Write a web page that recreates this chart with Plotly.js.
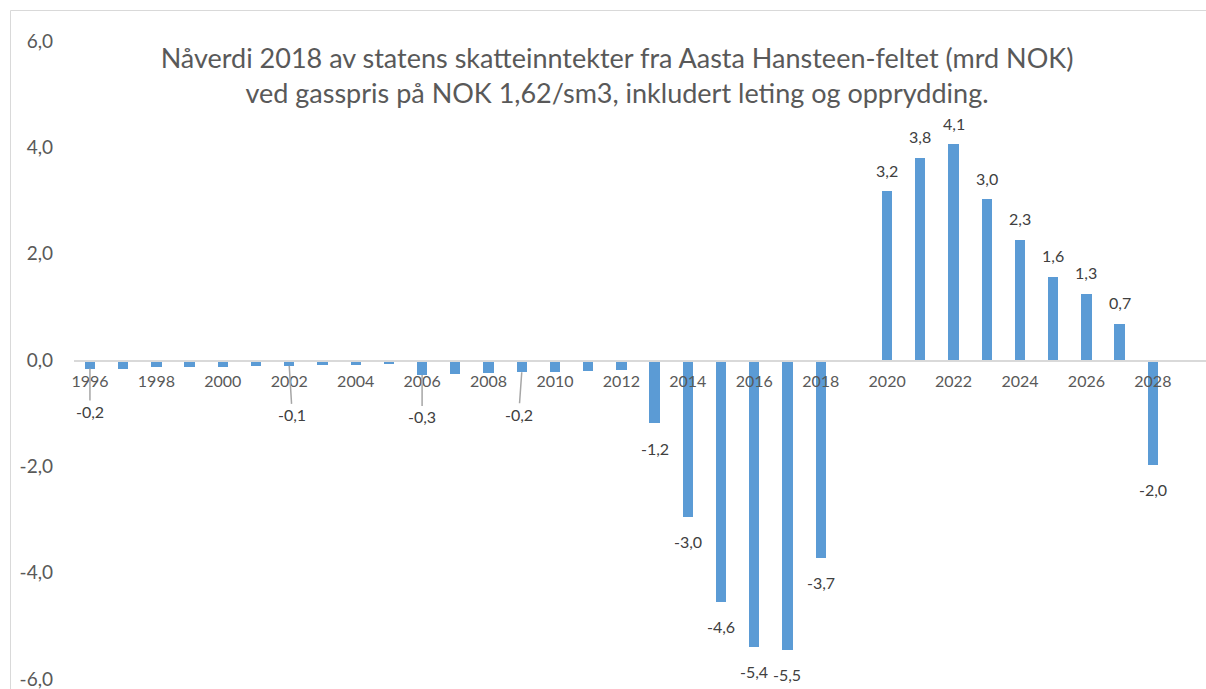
<!DOCTYPE html>
<html>
<head>
<meta charset="utf-8">
<script src="https://cdn.plot.ly/plotly-3.0.1.min.js"></script>
<style>html,body{margin:0;padding:0;background:#fff;}#chart{width:1206px;height:689px;}</style>
</head>
<body>
<div id="chart"></div>
<script>
// ---- data ----
const years = [1996,1997,1998,1999,2000,2001,2002,2003,2004,2005,2006,2007,2008,2009,2010,2011,2012,2013,2014,2015,2016,2017,2018,2019,2020,2021,2022,2023,2024,2025,2026,2027,2028,2029];
const values = [-0.16,-0.16,-0.14,-0.13,-0.13,-0.12,-0.11,-0.10,-0.09,-0.08,-0.28,-0.26,-0.25,-0.23,-0.22,-0.20,-0.18,-1.19,-2.95,-4.55,-5.39,-5.45,-3.72,0,3.17,3.80,4.06,3.02,2.26,1.57,1.25,0.68,-1.97,-0.03];
const labelYears = [1996,2002,2006,2009,2013,2014,2015,2016,2017,2018,2020,2021,2022,2023,2024,2025,2026,2027,2028];
const labelTexts = ['-0,2','-0,1','-0,3','-0,2','-1,2','-3,0','-4,6','-5,4','-5,5','-3,7','3,2','3,8','4,1','3,0','2,3','1,6','1,3','0,7','-2,0'];
const leaderYears = [1996,2002,2006,2009];
const yTickVals = [-6,-4,-2,0,2,4,6];
const titleLines = ['Nåverdi 2018 av statens skatteinntekter fra Aasta Hansteen-feltet (mrd NOK)', 'ved gasspris på NOK 1,62/sm3, inkludert leting og opprydding.'];

// ---- layout geometry ----
const W = 1206, H = 689;
const m = {l:74, r:0, t:31, b:0};
const pw = W - m.l - m.r, ph = H - m.t - m.b;
const yPad = 10 / 53.17; // extra value room above 6 and below -6
const font = 'Lato, "Open Sans", sans-serif';
const grey = '#595959';

const leaderOffsets = {1996:[0,43], 2002:[3,49], 2006:[0,42], 2009:[-3,42]};
const annotations = [];
labelYears.forEach((yr, i) => {
  const v = values[years.indexOf(yr)];
  if (leaderYears.includes(yr)) {
    const off = leaderOffsets[yr];
    annotations.push({x: yr, y: v, xref:'x', yref:'y', text: labelTexts[i],
      showarrow:true, arrowhead:0, arrowwidth:1.5, arrowcolor:'#a6a6a6',
      ax: off[0], ay: off[1], standoff:0,
      font:{family:font, size:16, color:'#404040'}});
  } else {
    annotations.push({x: yr, y: v, xref:'x', yref:'y', text: labelTexts[i],
      showarrow:false, yanchor:'middle', yshift: v < 0 ? -25 : 21,
      font:{family:font, size:16, color:'#404040'}});
  }
});

const px2x = p => (p - m.l) / pw;
const px2y = p => (H - m.b - p) / ph;
const shapes = [
  {type:'line', xref:'paper', yref:'paper', x0:px2x(10.5), x1:px2x(10.5), y0:px2y(10.5), y1:px2y(H+5), line:{color:'#d9d9d9', width:1}},
  {type:'line', xref:'paper', yref:'paper', x0:px2x(10.5), x1:px2x(W+5), y0:px2y(10.5), y1:px2y(10.5), line:{color:'#d9d9d9', width:1}}
];

const trace = {
  type:'bar', x: years, y: values, width: 0.31,
  marker:{color:'#5b9bd5', line:{width:0}},
  hoverinfo:'x+y'
};

const layout = {
  width: W, height: H, margin: m,
  paper_bgcolor:'#ffffff', plot_bgcolor:'#ffffff',
  showlegend:false,
  separators: ', ',
  title:{text: titleLines.join('<br>'), x: 617/W, xanchor:'center', y: 1 - 68/H, yanchor:'middle', yref:'container',
         font:{family:font, size:27, color:grey}},
  xaxis:{range:[1995.52, 2029.6], tickmode:'linear', tick0:1996, dtick:2, tickformat:'d',
         anchor:'free', position: 0.5, showgrid:false, zeroline:false,
         showline:true, linecolor:'#d9d9d9', linewidth:1.5, ticks:'', ticklabelstandoff:6,
         tickfont:{family:font, size:16, color:grey}, fixedrange:true},
  yaxis:{range:[-6 - yPad, 6 + yPad], tickvals: yTickVals, ticktext: yTickVals.map(v => v.toFixed(1).replace('.', ',')),
         showgrid:false, zeroline:false, showline:false, ticks:'', ticklabelstandoff:20,
         ticklabeloverflow:'allow',
         tickfont:{family:font, size:19, color:grey}, fixedrange:true},
  annotations: annotations,
  shapes: shapes,
  bargap: 0
};

Plotly.newPlot('chart', [trace], layout, {displayModeBar:false, staticPlot:true});
</script>
</body>
</html>
